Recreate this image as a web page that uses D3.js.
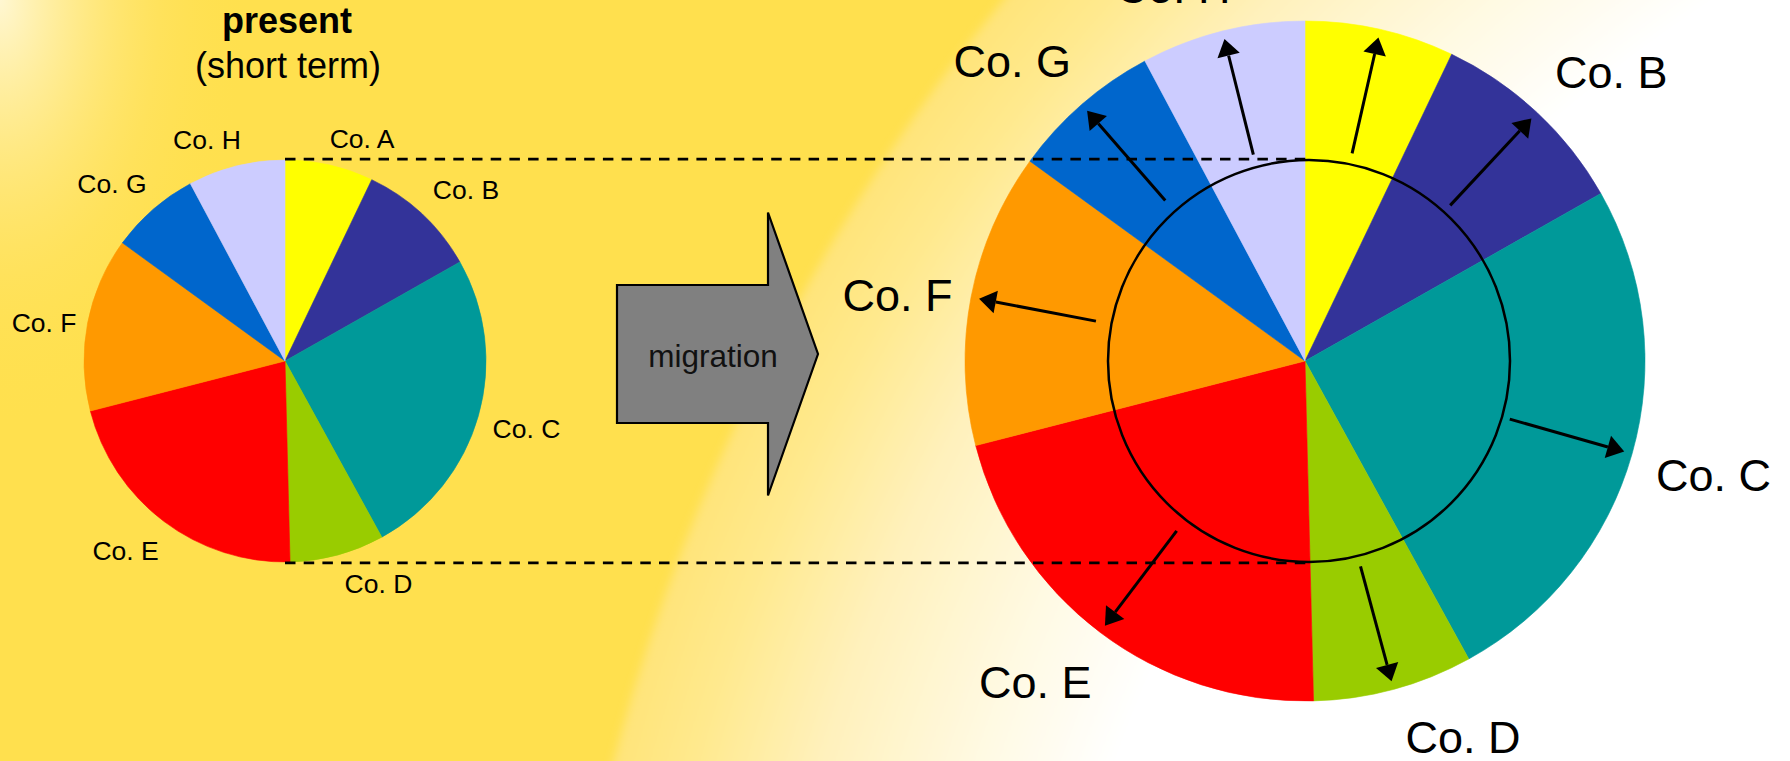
<!DOCTYPE html>
<html><head><meta charset="utf-8">
<script src="https://cdn.jsdelivr.net/npm/d3@7"></script>
<style>html,body{margin:0;padding:0;overflow:hidden;background:#FFE04E}</style>
</head><body>
<svg id="chart" width="1790" height="761"></svg>
<script>
// ---------- data ----------
const companies = ["Co. A","Co. B","Co. C","Co. D","Co. E","Co. F","Co. G","Co. H"];
const shares    = [7.1, 9.7, 25.2, 7.6, 21.4, 14.0, 7.2, 7.8];   // % market share (same split now and later)
const colors    = ["#FFFF00","#333399","#009999","#99CC00","#FF0000","#FF9900","#0066CC","#CCCCFF"];
const titleLines = ["present", "(short term)"];
const arrowLabel = "migration";

// ---------- layout ----------
const W = 1790, H = 761;
const FONT = "'Liberation Sans', Arial, Helvetica, sans-serif";
const small = {cx: 285, cy: 361, r: 201, font: 26.5};
const big   = {cx: 1305, cy: 361, r: 340, font: 45};
const inner = {cx: 1309, cy: 361};               // "present" size drawn inside the big pie
const labelAngleNudge  = [6.3, 3.6, -0.3, -7.7, 3.0, -1.6, -3.2, -5.4]; // degrees
const labelRadiusScale = [1.174, 1.239, 1.247, 1.199, 1.232, 1.214, 1.234, 1.167];

const data = companies.map((c, i) => ({name: c, share: shares[i], color: colors[i], i}));
const pie = d3.pie().sort(null).value(d => d.share);
const arcsData = pie(data);

const svg = d3.select("#chart").attr("viewBox", `0 0 ${W} ${H}`);
const defs = svg.append("defs");

// ---------- background ----------
const gGlow = defs.append("radialGradient").attr("id","glowTL")
  .attr("gradientUnits","userSpaceOnUse").attr("cx",0).attr("cy",0).attr("r",1)
  .attr("gradientTransform","scale(250,430)");
[[0,"#FFF7D2",1],[0.3,"#FFEFA8",0.7],[0.65,"#FFE679",0.3],[1,"#FFE04E",0]]
  .forEach(([o,c,a]) => gGlow.append("stop").attr("offset",o).attr("stop-color",c).attr("stop-opacity",a));

const bgC = {cx: 2551, cy: 1273, r: 2004};
const gLight = defs.append("radialGradient").attr("id","lightR")
  .attr("gradientUnits","userSpaceOnUse").attr("cx",bgC.cx).attr("cy",bgC.cy).attr("r",bgC.r);
[[0,"#FFFFFF"],[0.76,"#FFFFFF"],[0.83,"#FFF9E0"],[0.9,"#FFF1BC"],[0.96,"#FFE98E"],[1,"#FFE479"]]
  .forEach(([o,c]) => gLight.append("stop").attr("offset",o).attr("stop-color",c));
defs.append("filter").attr("id","soft").attr("x","-10%").attr("y","-10%").attr("width","120%").attr("height","120%")
  .append("feGaussianBlur").attr("stdDeviation",5);

svg.append("rect").attr("width",W).attr("height",H).attr("fill","#FFE04E");
svg.append("rect").attr("width",W).attr("height",H).attr("fill","url(#glowTL)");
svg.append("circle").attr("cx",bgC.cx).attr("cy",bgC.cy).attr("r",bgC.r)
  .attr("fill","url(#lightR)").attr("filter","url(#soft)");

// ---------- helpers ----------
function drawPie(cfg) {
  const g = svg.append("g").attr("transform", `translate(${cfg.cx},${cfg.cy})`);
  const arc = d3.arc().innerRadius(0).outerRadius(cfg.r);
  g.selectAll("path").data(arcsData).join("path")
    .attr("d", arc).attr("fill", d => d.data.color)
    .attr("stroke", d => d.data.color).attr("stroke-width", 0.6);
  return g;
}
function labelPos(d, cfg) {
  const a = (d.startAngle + d.endAngle) / 2 + labelAngleNudge[d.data.i] * Math.PI / 180;
  const rr = cfg.r * labelRadiusScale[d.data.i];
  return [rr * Math.sin(a), -rr * Math.cos(a)];
}
function drawLabels(g, cfg) {
  // only labels that reach into the visible page
  const vis = arcsData.filter(d => cfg.cy + labelPos(d, cfg)[1] + 0.36 * cfg.font > 2);
  g.selectAll("text.lab").data(vis).join("text").attr("class","lab")
    .attr("transform", d => `translate(${labelPos(d, cfg)})`)
    .attr("text-anchor","middle").attr("dy","0.36em")
    .attr("font-family",FONT).attr("font-size",cfg.font).attr("fill","#000")
    .text(d => d.data.name);
}

// ---------- small pie (present) ----------
const gs = drawPie(small);
drawLabels(gs, small);

svg.append("text").attr("x",287).attr("y",33).attr("text-anchor","middle")
  .attr("font-family",FONT).attr("font-weight","bold").attr("font-size",36).text(titleLines[0]);
svg.append("text").attr("x",288).attr("y",78).attr("text-anchor","middle")
  .attr("font-family",FONT).attr("font-size",36).text(titleLines[1]);

// ---------- migration arrow ----------
const ma = {x0: 617, x1: 768, x2: 818, cy: 354, bodyH: 69, headH: 141.5};
const maPts = [[ma.x0, ma.cy-ma.bodyH],[ma.x1, ma.cy-ma.bodyH],[ma.x1, ma.cy-ma.headH],[ma.x2, ma.cy],
               [ma.x1, ma.cy+ma.headH],[ma.x1, ma.cy+ma.bodyH],[ma.x0, ma.cy+ma.bodyH]];
svg.append("path").attr("d", d3.line()(maPts) + "Z")
  .attr("fill","#808080").attr("stroke","#000").attr("stroke-width",2.2).attr("stroke-linejoin","miter");
svg.append("text").attr("x",713).attr("y",366.5).attr("text-anchor","middle")
  .attr("font-family",FONT).attr("font-size",31.5).attr("fill","#111").text(arrowLabel);

// ---------- big pie (future) ----------
const gb = drawPie(big);

// inner circle (present size)
svg.append("circle").attr("cx",inner.cx).attr("cy",inner.cy).attr("r",small.r)
  .attr("fill","none").attr("stroke","#000").attr("stroke-width",2.5);

// growth arrows
const headLen = 17, headW = 23;
const ga = svg.append("g").attr("transform", `translate(${big.cx},${big.cy})`);
arcsData.forEach(d => {
  const a = (d.startAngle + d.endAngle) / 2;
  const ux = Math.sin(a), uy = -Math.cos(a);
  const r0 = big.r * 0.626, r1 = big.r * 0.976;
  const bx = ux * (r1 - headLen), by = uy * (r1 - headLen);
  ga.append("line").attr("x1", ux*r0).attr("y1", uy*r0).attr("x2", bx).attr("y2", by)
    .attr("stroke","#000").attr("stroke-width",3);
  const px = -uy, py = ux;
  ga.append("path").attr("d", d3.line()([[ux*r1, uy*r1],[bx + px*headW/2, by + py*headW/2],[bx - px*headW/2, by - py*headW/2]]) + "Z")
    .attr("fill","#000");
});
drawLabels(gb, big);

// dashed connectors from present pie to the inner circle
[-1, 1].forEach(s => {
  svg.append("line")
    .attr("x1", small.cx).attr("y1", small.cy + s * (small.r + 0.8))
    .attr("x2", inner.cx).attr("y2", inner.cy + s * (small.r + 0.8))
    .attr("stroke","#000").attr("stroke-width",2.8).attr("stroke-dasharray","10.5,8.2");
});
</script>
</body></html>
